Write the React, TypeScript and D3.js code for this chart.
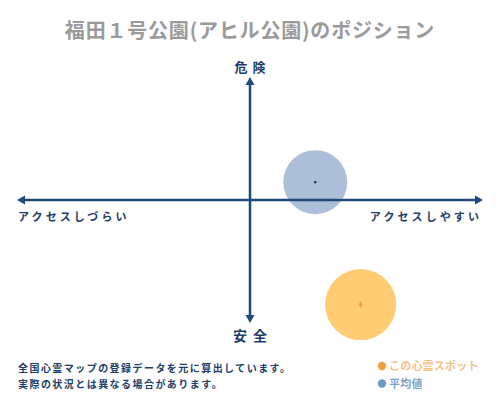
import * as d3 from "d3";
import React from "react";

// chart values
const title = "福田１号公園(アヒル公園)のポジション";
const axisTop = "危険";
const axisBottom = "安全";
const axisLeft = "アクセスしづらい";
const axisRight = "アクセスしやすい";
const seriesNames = ["平均値", "この心霊スポット"];
const seriesX = [2.8, 4.75];
const seriesY = [1.45, -8.5];
const seriesSize = [64, 79];
const notes = ["全国心霊マップの登録データを元に算出しています。", "実際の状況とは異なる場合があります。"];

const W = 500;
const H = 400;
const FONT = "'Noto Sans CJK JP', 'Noto Sans', sans-serif";
const AXIS = "#1d4a78";
const fills = ["#a7bcd6", "#ffc96b"];
const dots = ["#223", "#f2a13a"];
const legendDot = ["#6f9ac2", "#f0a040"];
const legendText = ["#7fa3c6", "#f3c28a"];

const App: React.FC = () => {
  const x = d3.scaleLinear().domain([-10, 10]).range([17, 483]);
  const y = d3.scaleLinear().domain([-10, 10]).range([323, 77]);
  const r = d3.scaleSqrt().domain([0, 100]).range([0, 40]);

  const cx = x(0);
  const cy = y(0);
  const [x0, x1] = x.range();
  const [y0, y1] = y.range();
  const head = 6;

  // draw the average first, the spot on top
  const order = [0, 1];

  return (
    <svg width={W} height={H} style={{position: "absolute", left: 0, top: 0}} fontFamily={FONT}>
      <rect width={W} height={H} fill="#fff" />
      <text x={W / 2} y={38} textAnchor="middle" fontSize={20} fontWeight="bold" fill="#9a9a9a" letterSpacing={0.8}>
        {title}
      </text>

      {order.map((i) => (
        <g key={i}>
          <circle cx={x(seriesX[i])} cy={y(seriesY[i])} r={r(seriesSize[i])} fill={fills[i]} opacity={0.95} />
        </g>
      ))}

      {/* axes */}
      <line x1={x0 + head} x2={x1 - head} y1={cy} y2={cy} stroke={AXIS} strokeWidth={2.5} />
      <line x1={cx} x2={cx} y1={y1 + head} y2={y0 - head} stroke={AXIS} strokeWidth={2.5} />
      <path d={`M${x0},${cy} L${x0 + head + 2},${cy - 4.5} L${x0 + head + 2},${cy + 4.5} Z`} fill={AXIS} />
      <path d={`M${x1},${cy} L${x1 - head - 2},${cy - 4.5} L${x1 - head - 2},${cy + 4.5} Z`} fill={AXIS} />
      <path d={`M${cx},${y1} L${cx - 4.5},${y1 + head + 2} L${cx + 4.5},${y1 + head + 2} Z`} fill={AXIS} />
      <path d={`M${cx},${y0} L${cx - 4.5},${y0 - head - 2} L${cx + 4.5},${y0 - head - 2} Z`} fill={AXIS} />

      {order.map((i) =>
        i === 0 ? (
          <circle key={"d" + i} cx={x(seriesX[i])} cy={y(seriesY[i])} r={1.2} fill={dots[i]} />
        ) : (
          <path
            key={"d" + i}
            d={d3.symbol(d3.symbolDiamond, 14)() || ""}
            transform={`translate(${x(seriesX[i])},${y(seriesY[i])})`}
            fill={dots[i]}
          />
        )
      )}

      <g fontWeight="bold" fill="#1e3d66">
        <text x={cx + 2.5} y={72} textAnchor="middle" fontSize={13} letterSpacing={5}>{axisTop}</text>
        <text x={cx + 3} y={341} textAnchor="middle" fontSize={14} letterSpacing={6}>{axisBottom}</text>
        <text x={18} y={221} fontSize={11} letterSpacing={3.1}>{axisLeft}</text>
        <text x={482} y={221} fontSize={11} letterSpacing={3.1} textAnchor="end">{axisRight}</text>
      </g>

      <g fontWeight="bold" fill="#1e3d66" fontSize={10} letterSpacing={1.45}>
        {notes.map((n, i) => (
          <text key={i} x={18} y={371.5 + i * 16.5}>{n}</text>
        ))}
      </g>

      {[1, 0].map((i, k) => (
        <g key={"l" + i} transform={`translate(382,${366 + k * 17.5})`}>
          <circle r={4.2} fill={legendDot[i]} />
          <text x={7} y={4} fontSize={11} fontWeight="bold" letterSpacing={0.2} fill={legendText[i]}>
            {seriesNames[i]}
          </text>
        </g>
      ))}
    </svg>
  );
};

export default App;
